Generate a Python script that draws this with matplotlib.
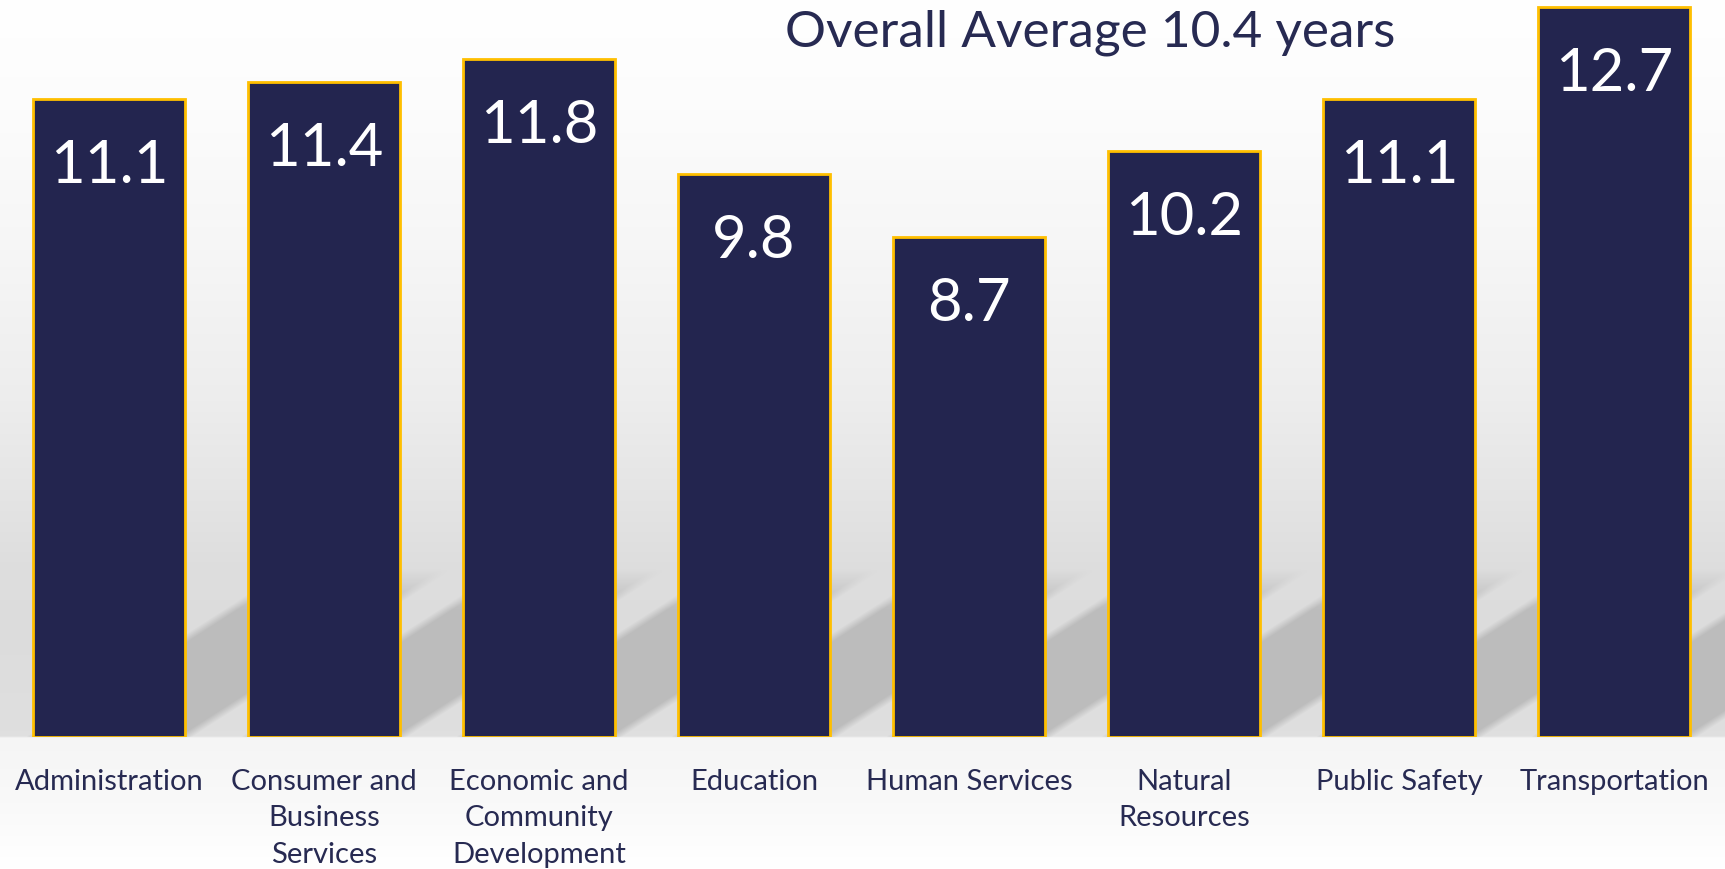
import numpy as np
import matplotlib.pyplot as plt

# average years of service by department
departments = ["Administration", "Consumer and\nBusiness\nServices",
               "Economic and\nCommunity\nDevelopment", "Education",
               "Human Services", "Natural\nResources", "Public Safety",
               "Transportation"]
years = [11.1, 11.4, 11.8, 9.8, 8.7, 10.2, 11.1, 12.7]
overall_avg = 10.4

W, H = 1725, 870
navy = "#23254f"
gold = "#ffbf00"
text_col = "#272a52"
plt.rcParams["font.family"] = ["Lato", "DejaVu Sans"]

fig = plt.figure(figsize=(W / 100, H / 100), dpi=100)
base_row = 738
ax = fig.add_axes([0, (H - base_row) / H, 1, base_row / H])
ax.set_xlim(-0.507, 7.516)
ax.set_ylim(0, 12.835)
ax.set_facecolor("none")
for s in ax.spines.values():
    s.set_visible(False)
ax.set_yticks([])

x = np.arange(len(years))
bar_w = 0.71
ax.bar(x, years, width=bar_w, color=navy, edgecolor=gold, linewidth=2, zorder=3)

for xi, v in zip(x, years):
    ax.text(xi, v - 1.45, f"{v}", ha="center", va="baseline",
            color="white", fontsize=43, zorder=4)

ax.set_xticks(x, departments, fontsize=21, color=text_col, linespacing=1.5)
ax.tick_params(axis="x", length=0, pad=22)

fig.text(1090 / W, 1 - 47 / H, f"Overall Average {overall_avg} years",
         ha="center", va="baseline", fontsize=37, color=text_col)

# background: soft grey wall with slanted bar shadows
rows = np.arange(H)[:, None] + 0.5
cols = np.arange(W)[None, :] + 0.5
prof = np.interp(rows[:, 0], [0, 100, 250, 400, 500, 570, 640, 737, 739, 800, 869],
                 [1.0, 0.99, 0.965, 0.93, 0.895, 0.868, 0.865, 0.875, 0.962, 0.975, 1.0])
img = np.repeat(prof[:, None], W, axis=1)

fig.canvas.draw()
lift = 148.0
slant = 230.0 / lift
blur = 14.0
v = base_row - rows
shade = np.zeros((H, W))
for xi in x:
    left = ax.transData.transform((xi - bar_w / 2, 0))[0]
    right = ax.transData.transform((xi + bar_w / 2, 0))[0]
    u = cols - v * slant
    a = (np.clip((u - left) / blur + 0.5, 0, 1) *
         np.clip((right - u) / blur + 0.5, 0, 1) *
         np.clip((lift - v) / 40 + 0.5, 0, 1) *
         (v > 0))
    shade = np.maximum(shade, a)
img = img * (1 - shade) + 0.74 * shade

bg = fig.add_axes([0, 0, 1, 1], zorder=-1)
bg.imshow(np.dstack([img] * 3), extent=(0, W, H, 0), aspect="auto",
          interpolation="bilinear")
bg.axis("off")

fig.savefig("out.png", dpi=100)
